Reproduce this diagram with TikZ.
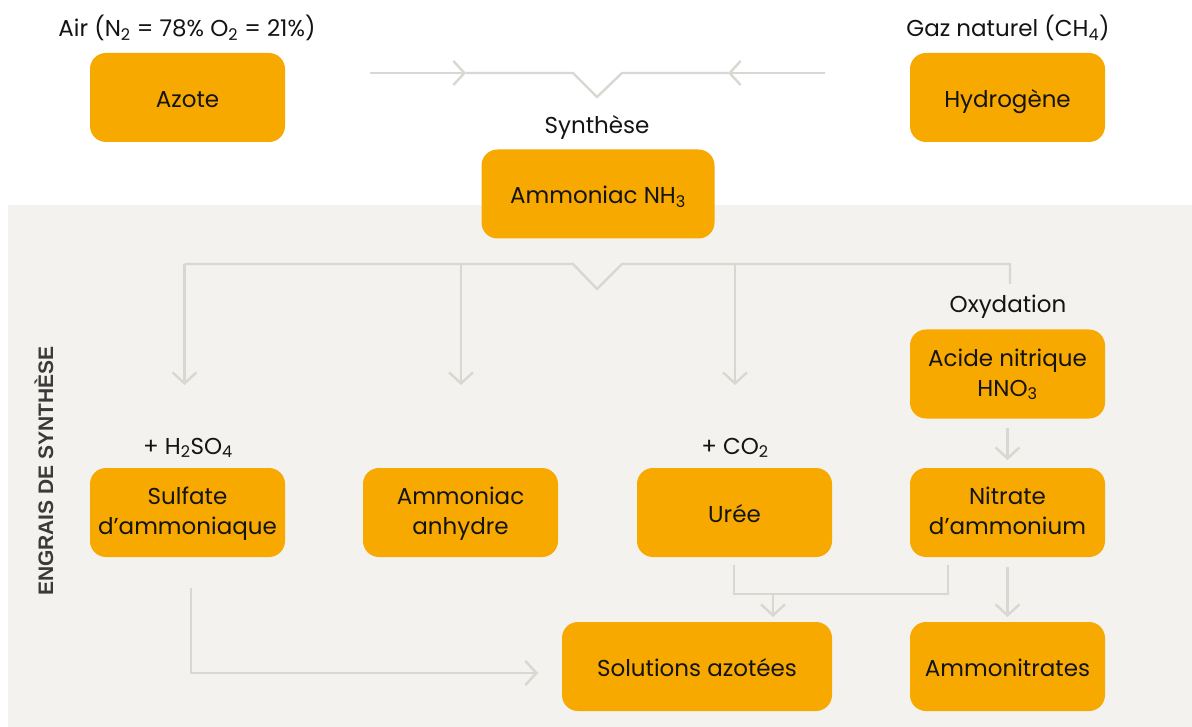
\documentclass[tikz,border=0pt]{standalone}
\usepackage{fontspec}
\setmainfont{Poppins}
\newfontfamily\titlefont{Liberation Sans}
\usetikzlibrary{arrows.meta}

\definecolor{boxorange}{HTML}{F7A900}
\definecolor{panelgray}{HTML}{F3F2EE}
\definecolor{linkgray}{HTML}{D9D7D1}
\definecolor{inkdark}{HTML}{141414}
\definecolor{titlegray}{HTML}{3A3A3A}

\newcommand{\chem}[1]{\textsubscript{#1}}

\tikzset{
  procbox/.style={draw=none, fill=boxorange, rounded corners=16pt,
    minimum width=195pt, minimum height=89pt, inner sep=0pt,
    align=center, text=inkdark, font=\fontsize{23}{30}\selectfont},
  oneline/.style={text height=23pt, text depth=3pt},
  twoline/.style={text height=44pt, text depth=-8pt},
  tag/.style={text=inkdark, font=\fontsize{23}{26}\selectfont, inner sep=0pt,
    text height=19pt, text depth=1pt},
  link/.style={draw=linkgray, line width=2.4pt, line join=miter},
  flow/.style={link, -{Straight Barb[length=11pt,width=24pt,line width=2.4pt]}},
}

\begin{document}
\begin{tikzpicture}[x=1pt, y=-1pt]
  \useasboundingbox (0,0) rectangle (1192,727);
  \fill[white] (0,0) rectangle (1192,727);
  % synthetic fertiliser panel
  \fill[panelgray] (8,205) rectangle (1192,727);

  % raw materials and synthesis
  \node[procbox, oneline] (azote) at (187.5,97.5) {Azote};
  \node[procbox, oneline] (hydro) at (1007.5,97.5) {Hydrogène};
  \node[procbox, oneline, minimum width=233pt] (nh3) at (598,194) {Ammoniac NH\chem{3}};
  \node[tag] (air) at (187,28) {Air (N\chem{2} = 78\% O\chem{2} = 21\%)};
  \node[tag] (gaz) at (1008,28) {Gaz naturel (CH\chem{4})};
  \node[tag] (synth) at (597,125) {Synthèse};

  % products
  \node[procbox, twoline] (acide) at (1007.5,374) {Acide nitrique\\HNO\chem{3}};
  \node[tag] (oxy) at (1008,304) {Oxydation};
  \node[procbox, twoline] (sulfate) at (187.5,512.5) {Sulfate\\d’ammoniaque};
  \node[procbox, twoline] (anhydre) at (460.5,512.5) {Ammoniac\\anhydre};
  \node[procbox, oneline] (uree) at (734.5,512.5) {Urée};
  \node[procbox, twoline] (nitrate) at (1007.5,512.5) {Nitrate\\d’ammonium};
  \node[tag] (h2so4) at (188,445) {+ H\chem{2}SO\chem{4}};
  \node[tag] (co2) at (735,445) {+ CO\chem{2}};
  \node[procbox, oneline, minimum width=270pt] (solut) at (697,666.5) {Solutions azotées};
  \node[procbox, oneline] (ammonit) at (1007.5,666.5) {Ammonitrates};

  % panel title
  \node[rotate=90, text=titlegray, inner sep=0pt,
        font=\titlefont\bfseries\fontsize{21}{24}\selectfont] (title) at (44,471)
        {ENGRAIS DE SYNTHÈSE};

  % nitrogen + hydrogen -> synthesis
  \coordinate (inL) at (370,73);
  \coordinate (midL) at (466,73);
  \coordinate (inR) at (825,73);
  \coordinate (midR) at (728,73);
  \draw[flow] (inL) -- (midL);
  \draw[flow] (inR) -- (midR);
  \draw[link] (midL) -- (573,73) -- (597,97) -- (622,73) -- (midR);

  % ammonia distribution bus
  \coordinate (busL) at (184.5,264);
  \coordinate (busR) at (1010,264);
  \draw[link] (busL) -- (573,264) -- (597,289) -- (622,264) -- (busR) -- (1010,284);
  \draw[flow] (busL) -- (184.5,385);
  \draw[flow] (461,264) -- (461,385);
  \draw[flow] (735,264) -- (735,385);

  % nitric acid -> ammonium nitrate
  \draw[flow] (1007.5,428) -- (1007.5,460);

  % urea + ammonium nitrate -> solutions
  \draw[link] (734,565) -- (734,594) -- (948,594) -- (948,565);
  \draw[flow] (773,594) -- (773,617);
  \draw[flow] (1007.5,567) -- (1007.5,617);

  % ammonium sulfate -> solutions
  \draw[flow] (191,588) -- (191,673) -- (538,673);
\end{tikzpicture}
\end{document}
